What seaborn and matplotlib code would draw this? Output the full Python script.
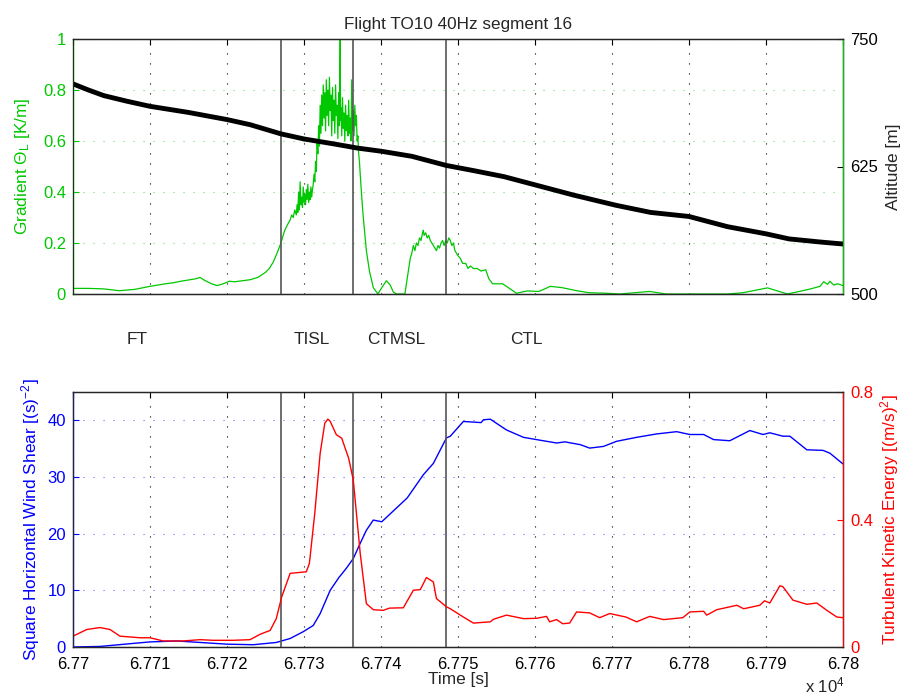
import numpy as np
import matplotlib
matplotlib.use("Agg")
import matplotlib.pyplot as plt
import seaborn as sns

# time origin of the segment [s]
t0 = 67700
# layer boundaries [s]
bounds = [67727.0, 67736.4, 67748.4]
region_names = ['FT', 'TISL', 'CTMSL', 'CTL']
region_x = [137, 312, 396, 526]  # pixel centres of the labels
xticks = [67700 + 10 * i for i in range(11)]
xtick_labels = ['6.77', '6.771', '6.772', '6.773', '6.774', '6.775',
                '6.776', '6.777', '6.778', '6.779', '6.78']

# gradient theta_L [K/m] (green)
grad_t = [0, 2, 4, 6, 8, 10, 11, 12, 13, 14, 15, 16, 16.5, 17, 18, 18.7, 19.5, 20.3, 21, 22,
          23, 24, 25, 25.5, 26, 26.5, 27, 27.5,
          28.0, 28.2, 28.4, 28.6, 28.8, 29.0, 29.1, 29.2, 29.3, 29.4, 29.5, 29.6, 29.7, 29.8,
          29.9, 30.0, 30.1, 30.2, 30.3, 30.4, 30.5, 30.6, 30.7, 30.8, 30.9, 31.0, 31.1, 31.2,
          31.3, 31.4, 31.5, 31.6, 31.7, 31.8, 31.9, 32.0, 32.1, 32.2, 32.3, 32.4, 32.5, 32.6,
          32.7, 32.8, 32.9, 33.0, 33.1, 33.2, 33.3, 33.4, 33.5, 33.6, 33.7, 33.8, 33.9, 34.0,
          34.1, 34.2, 34.3, 34.4, 34.5, 34.6, 34.7, 34.75, 34.8, 34.9, 35.0, 35.1, 35.2, 35.3,
          35.4, 35.5, 35.6, 35.7, 35.8, 35.9, 36.0, 36.1, 36.2, 36.3, 36.4, 36.5, 36.6, 36.7,
          36.8, 36.9, 37.0, 37.1, 37.2, 37.3, 37.5, 37.7,
          38.1, 38.5, 39.0, 39.6, 40.0, 40.7, 41.2, 41.6, 42.0, 43.1, 43.4, 43.6, 43.8, 44.0,
          44.2, 44.4, 44.6, 44.8, 45.0, 45.2, 45.4, 45.5, 45.6, 45.8, 46.0, 46.2, 46.4, 46.6,
          46.8, 47.0, 47.2, 47.4, 47.6, 47.8, 48.0, 48.2, 48.4, 48.6, 48.8, 49.0, 49.2, 49.4,
          49.6, 49.8, 50.0, 50.3, 50.6, 51.0, 51.3, 51.6, 52.0, 52.5, 53.0, 53.6, 54.0, 54.5,
          55.8, 57.6, 59, 60.5, 62, 63.5, 65.4, 67, 69.2, 71, 74.9, 77, 80,
          85, 87, 90.2, 91.5, 92.8, 94, 95.8, 97, 97.5, 98, 98.3, 98.8, 99.3, 100]
grad_v = [0.022, 0.022, 0.02, 0.013, 0.018, 0.03, 0.035, 0.04, 0.044, 0.05, 0.055, 0.06, 0.065,
          0.055, 0.04, 0.033, 0.04, 0.05, 0.048, 0.052, 0.056, 0.065, 0.085, 0.1, 0.125, 0.16,
          0.2, 0.25,
          0.28, 0.29, 0.31, 0.30, 0.33, 0.31, 0.35, 0.32, 0.40, 0.33, 0.44, 0.35, 0.38, 0.34,
          0.42, 0.36, 0.39, 0.35, 0.41, 0.37, 0.43, 0.36, 0.40, 0.37, 0.42, 0.38, 0.41, 0.43,
          0.47, 0.44, 0.52, 0.48, 0.60, 0.55, 0.66, 0.58, 0.74, 0.63, 0.78, 0.66, 0.82, 0.69,
          0.79, 0.64, 0.84, 0.70, 0.80, 0.66, 0.85, 0.72, 0.78, 0.62, 0.81, 0.68, 0.76, 0.63,
          0.82, 0.70, 0.74, 0.61, 0.79, 0.66, 1.0, 0.68, 0.73, 0.62, 0.77, 0.65, 0.71, 0.60,
          0.74, 0.64, 0.70, 0.62, 0.76, 0.63, 0.69, 0.60, 0.84, 0.64, 0.72, 0.62, 0.74, 0.66,
          0.70, 0.60, 0.62, 0.55, 0.52, 0.47, 0.38, 0.30,
          0.17, 0.09, 0.025, 0.0, 0.02, 0.052, 0.035, 0.008, 0.0, 0.0, 0.06, 0.1, 0.14, 0.16,
          0.19, 0.17, 0.20, 0.19, 0.22, 0.21, 0.24, 0.25, 0.23, 0.24, 0.22, 0.23, 0.21, 0.20,
          0.19, 0.18, 0.17, 0.19, 0.18, 0.20, 0.21, 0.19, 0.21, 0.20, 0.22, 0.21, 0.19, 0.20,
          0.17, 0.16, 0.15, 0.14, 0.12, 0.12, 0.10, 0.11, 0.10, 0.10, 0.09, 0.095, 0.06, 0.04,
          0.04, 0.003, 0.012, 0.01, 0.03, 0.025, 0.013, 0.005, 0.003, 0.0, 0.01, 0.0, 0.0,
          0.0, 0.005, 0.024, 0.012, 0.0, 0.008, 0.02, 0.03, 0.048, 0.038, 0.05, 0.035, 0.04,
          0.033]

# altitude [m] (black)
alt_t = [0, 2, 4, 7, 10, 15, 20, 23, 27, 30, 34, 37, 40, 44, 48.5, 52, 56, 60, 65, 70.5,
         75, 80, 85, 90, 93, 97, 100]
alt_v = [706, 700, 694.5, 689, 684, 678, 671, 666, 657, 652, 647, 643, 640, 635, 626, 621,
         615, 607, 597, 587, 580, 576, 566, 559, 554, 551, 549]

# square horizontal wind shear [s^-2] (blue)
shear_t = [0, 3.5, 10, 13.5, 20, 23.4, 26.4, 28.2, 29.9, 31.2, 32.1, 33.4, 34.5, 35.5, 36.4,
           37.3, 38.1, 39, 40.1, 43.4, 45.5, 46.8, 48.5, 49, 50.7, 53.0, 53.3, 54.2, 56.3,
           58.5, 60.2, 62.8, 63.9, 65.9, 67.1, 68.9, 70.6, 73.2, 75.8, 78.4, 80.1, 81.9, 83.2,
           85.3, 87.9, 89.6, 90.5, 92.2, 93.1, 95.3, 97.4, 98.3, 100]
shear_v = [0, 0.1, 0.9, 1.06, 0.5, 0.4, 0.8, 1.5, 2.7, 3.8, 5.9, 10, 12.2, 13.9, 15.6, 18.3,
           20.6, 22.4, 22.1, 26.3, 30.4, 32.4, 36.9, 37.2, 39.8, 39.6, 40.1, 40.2, 38.3, 37,
           36.6, 36, 36.2, 35.7, 35.1, 35.4, 36.3, 37, 37.6, 38, 37.5, 37.5, 36.6, 36.4, 38.2,
           37.5, 37.8, 37.2, 37.2, 34.8, 34.7, 34.2, 32.3]

# turbulent kinetic energy [(m/s)^2] (red)
tke_t = [0, 1.8, 3.5, 4.8, 6.1, 8.7, 10, 11.7, 14.3, 16.5, 18.2, 20.8, 23, 24.3, 25.6, 26.4,
         27.1, 28.2, 29, 30.3, 30.7, 31.4, 32.1, 32.7, 33.1, 33.4, 34.2, 34.9, 35.8, 36.4,
         37.3, 38.1, 39, 40.3, 41.1, 42.9, 44.2, 45.1, 45.9, 46.8, 47.2, 48.5, 49, 50.3, 52,
         54.2, 54.6, 56.3, 58.5, 60.2, 61.5, 61.9, 62.8, 63.6, 64.5, 65.4, 67.1, 68.4, 69.7,
         71.8, 73.2, 74.9, 76.7, 79.2, 80.1, 81.9, 82.3, 83.6, 85.3, 86.2, 87.1, 89.2, 89.8,
         90.5, 91.8, 92.2, 93.5, 95.3, 96.6, 97.9, 99.2, 100]
tke_v = [0.034, 0.055, 0.061, 0.055, 0.034, 0.029, 0.029, 0.019, 0.019, 0.023, 0.021, 0.021,
         0.023, 0.04, 0.052, 0.089, 0.157, 0.231, 0.233, 0.236, 0.262, 0.42, 0.608, 0.702,
         0.715, 0.708, 0.666, 0.655, 0.592, 0.524, 0.294, 0.136, 0.117, 0.115, 0.122, 0.123,
         0.178, 0.18, 0.218, 0.204, 0.152, 0.126, 0.12, 0.1, 0.075, 0.079, 0.087, 0.1, 0.089,
         0.09, 0.096, 0.079, 0.086, 0.073, 0.075, 0.11, 0.107, 0.092, 0.105, 0.094, 0.079,
         0.096, 0.086, 0.092, 0.11, 0.112, 0.1, 0.117, 0.126, 0.131, 0.12, 0.131, 0.145,
         0.138, 0.192, 0.189, 0.147, 0.134, 0.138, 0.115, 0.094, 0.092]

green = '#00c800'
blue = '#0000ff'
red = '#ff0000'

sns.set_style('white')
plt.rcParams['font.family'] = ['Liberation Sans', 'DejaVu Sans']
plt.rcParams['mathtext.fontset'] = 'custom'
plt.rcParams['mathtext.rm'] = 'Liberation Sans'
plt.rcParams['mathtext.it'] = 'Liberation Sans'

W, H = 902, 698
fig = plt.figure(figsize=(W / 100, H / 100), dpi=100)
ax1 = fig.add_axes([73 / W, 1 - 294 / H, 770 / W, 255 / H])
ax2 = fig.add_axes([73 / W, 1 - 647 / H, 770 / W, 255 / H])

dots = (0, (1, 8))


def style_axes(ax, ycol):
    ax.set_xlim(67700, 67800)
    ax.set_xticks(xticks)
    ax.grid(True, axis='x', color='black', linestyle=dots, lw=0.8)
    ax.grid(True, axis='y', color=ycol, linestyle=dots, lw=0.8, alpha=0.6)
    ax.tick_params(axis='x', direction='in', length=4, top=True, labelsize=12, colors='black',
                   pad=7)
    ax.tick_params(axis='y', direction='in', length=4, right=True, labelsize=12,
                   colors=ycol, pad=5)
    ax.spines['left'].set_color(ycol)
    for s in ax.spines.values():
        s.set_linewidth(1.0)
    for b in bounds:
        ax.axvline(b, color='#555555', lw=1.2, zorder=5)


# ---- top panel ----
sns.lineplot(x=np.array(grad_t) + t0, y=grad_v, ax=ax1, color=green, lw=0.9)
ax1.set_ylim(0, 1)
ax1.set_yticks([0, 0.2, 0.4, 0.6, 0.8, 1])
ax1.set_yticklabels(['0', '0.2', '0.4', '0.6', '0.8', '1'])
style_axes(ax1, green)
ax1.set_xticklabels([])
ax1.set_xlabel('')
ax1.set_ylabel(r'Gradient $\Theta_L$ [K/m]', color=green, fontsize=12.4, labelpad=8)
ax1.set_title('Flight TO10 40Hz segment 16', fontsize=12.3, pad=7)

ax1r = ax1.twinx()
sns.lineplot(x=np.array(alt_t) + t0, y=alt_v, ax=ax1r, color='black', lw=3.5)
ax1r.set_ylim(500, 750)
ax1r.set_yticks([500, 625, 750])
ax1r.tick_params(axis='y', direction='in', length=4, labelsize=12, colors='black', pad=5)
ax1r.spines['right'].set_color(green)
ax1r.set_ylabel('Altitude [m]', fontsize=12.4, labelpad=6)

# ---- bottom panel ----
sns.lineplot(x=np.array(shear_t) + t0, y=shear_v, ax=ax2, color=blue, lw=1.0)
ax2.set_ylim(0, 45)
ax2.set_yticks([0, 10, 20, 30, 40])
style_axes(ax2, blue)
ax2.set_xticklabels(xtick_labels)
ax2.set_xlabel('Time [s]', fontsize=12.4, labelpad=0)
ax2.set_ylabel(r'Square Horizontal Wind Shear [(s)$^{-2}$]', color=blue, fontsize=12.4,
               labelpad=4)

ax2r = ax2.twinx()
sns.lineplot(x=np.array(tke_t) + t0, y=tke_v, ax=ax2r, color=red, lw=1.0)
ax2r.set_ylim(0, 0.8)
ax2r.set_yticks([0, 0.4, 0.8])
ax2r.set_yticklabels(['0', '0.4', '0.8'])
ax2r.tick_params(axis='y', direction='in', length=4, labelsize=12, colors=red, pad=5)
ax2r.spines['right'].set_color(red)
ax2r.set_ylabel(r'Turbulent Kinetic Energy [(m/s)$^2$]', color=red, fontsize=12.4,
                labelpad=4)

for name, px in zip(region_names, region_x):
    fig.text(px / W, 1 - 339 / H, name, ha='center', va='center', fontsize=12.4)
fig.text(845 / W, 3 / H, r'x 10$^4$', ha='right', va='bottom', fontsize=12)

fig.savefig('out.png', dpi=100)
